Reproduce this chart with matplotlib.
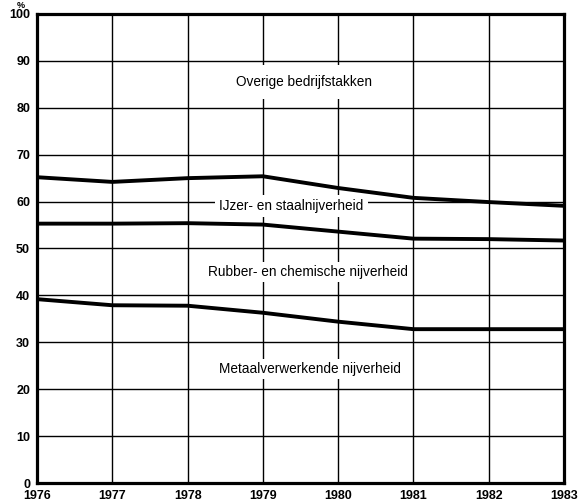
import numpy as np
import matplotlib
matplotlib.use("Agg")
import matplotlib.pyplot as plt

plt.rcParams['font.family'] = ['Liberation Sans', 'DejaVu Sans']

years = [1976, 1977, 1978, 1979, 1980, 1981, 1982, 1983]
# cumulative shares (%), lowest boundary first
metaal_top = [39.2, 37.9, 37.8, 36.3, 34.4, 32.8, 32.8, 32.8]
rubber_top = [55.3, 55.3, 55.4, 55.1, 53.6, 52.1, 52.0, 51.7]
ijzer_top = [65.2, 64.2, 65.0, 65.4, 62.9, 60.8, 59.9, 59.1]

sector_labels = ["Overige bedrijfstakken", "IJzer- en staalnijverheid",
                 "Rubber- en chemische nijverheid", "Metaalverwerkende nijverheid"]
label_x = [1979.55, 1979.38, 1979.6, 1979.62]
label_y = [85.5, 59.1, 45.0, 24.3]
label_pad = [7, 3, 2, 2]

yticks = list(range(0, 101, 10))

fig = plt.figure(figsize=(5.88, 5.04), dpi=100)
ax = fig.add_axes([37 / 588, 1 - 483 / 504, (564 - 37) / 588, (483 - 14) / 504])

for series in (metaal_top, rubber_top, ijzer_top):
    ax.plot(years, series, color="black", linewidth=2.8,
            solid_capstyle="butt", zorder=3)

for text, x, y, pad in zip(sector_labels, label_x, label_y, label_pad):
    ax.text(x, y, text, ha="center", va="center", fontsize=9.8,
            zorder=4, bbox=dict(facecolor="white", edgecolor="none", pad=pad))

ax.set_xlim(1976, 1983)
ax.set_ylim(0, 100)
ax.set_xticks(years)
ax.set_yticks(yticks)
ax.set_xticklabels([str(y) for y in years], fontweight="bold", fontsize=9)
ax.set_yticklabels([str(t) for t in yticks], fontweight="bold", fontsize=9)
ax.tick_params(length=0)
ax.tick_params(axis="x", pad=5)
ax.tick_params(axis="y", pad=5)
ax.grid(True, color="black", linewidth=1.0, zorder=1)
ax.set_axisbelow(True)
for spine in ax.spines.values():
    spine.set_linewidth(2.3)
    spine.set_zorder(5)

fig.text(21 / 588, 0.999, "%", ha="center", va="top", fontsize=6.5,
         fontweight="bold")

fig.savefig("out.png", dpi=100)
